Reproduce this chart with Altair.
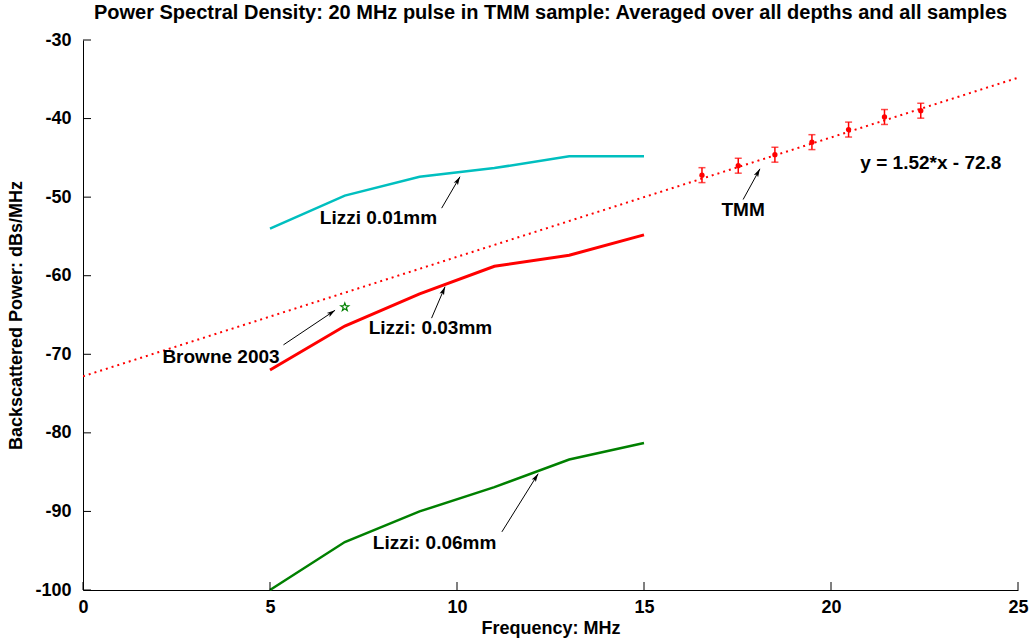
import math
import altair as alt
import pandas as pd

# ---------------- data ----------------
freq_lizzi = [5, 7, 9, 11, 13, 15]
lizzi_001 = [-54.0, -49.8, -47.4, -46.3, -44.8, -44.8]
lizzi_003 = [-72.0, -66.4, -62.3, -58.8, -57.4, -54.8]
lizzi_006 = [-100.0, -93.9, -90.0, -86.9, -83.4, -81.3]

tmm_freq = [16.55, 17.52, 18.5, 19.49, 20.47, 21.43, 22.4]
tmm_power = [-47.2, -46.0, -44.6, -43.0, -41.4, -39.8, -39.0]
tmm_err = [0.95, 0.95, 0.95, 0.95, 0.95, 0.95, 0.95]

fit_x = [0, 25]
fit_y = [-72.8, -34.8]

browne_x = [7.0]
browne_y = [-64.0]

ann_text = ["Lizzi 0.01mm", "Lizzi: 0.03mm", "Browne 2003", "TMM", "Lizzi: 0.06mm", "y = 1.52*x - 72.8"]
ann_x = [7.9, 9.29, 3.69, 17.65, 9.4, 22.67]
ann_y = [-52.7, -66.7, -70.3, -51.6, -94.0, -45.7]

arrow_x1 = [9.59, 9.32, 5.36, 17.65, 11.2]
arrow_y1 = [-51.4, -65.4, -68.8, -50.3, -92.6]
arrow_x2 = [10.08, 9.68, 6.74, 18.10, 12.17]
arrow_y2 = [-47.4, -61.4, -64.4, -46.4, -85.2]

x_ticks = [0, 5, 10, 15, 20, 25]
y_ticks = [-100, -90, -80, -70, -60, -50, -40, -30]

TITLE = "Power Spectral Density: 20 MHz pulse in TMM sample: Averaged over all depths and all samples"

# ---------------- layout ----------------
W, H = 935, 550
XD = [0, 25]
YD = [-100, -30]
FONT = "Liberation Sans"

xs = alt.Scale(domain=XD, nice=False, zero=False)
ys = alt.Scale(domain=YD, nice=False, zero=False)

def X(field, axis=True):
    if axis:
        return alt.X(field, type="quantitative", scale=xs, title="Frequency: MHz",
                     axis=alt.Axis(values=x_ticks, labelExpr="datum.value + ''"))
    return alt.X(field, type="quantitative", scale=xs)

def Y(field, axis=True):
    if axis:
        return alt.Y(field, type="quantitative", scale=ys, title="Backscattered Power: dBs/MHz",
                     axis=alt.Axis(values=y_ticks, labelExpr="datum.value + ''"))
    return alt.Y(field, type="quantitative", scale=ys)

# fit line
fit_df = pd.DataFrame({"x": fit_x, "y": fit_y})
fit = alt.Chart(fit_df).mark_line(color="#ff0000", strokeWidth=2, strokeDash=[2, 4], clip=True).encode(
    x=X("x"), y=Y("y"))

# Lizzi lines
def lizzi(vals, color, width):
    df = pd.DataFrame({"x": freq_lizzi, "y": vals})
    return alt.Chart(df).mark_line(color=color, strokeWidth=width).encode(x=X("x", axis=False), y=Y("y", axis=False))

l1 = lizzi(lizzi_001, "#00bfbf", 2.5)
l3 = lizzi(lizzi_003, "#ff0000", 3)
l6 = lizzi(lizzi_006, "#008000", 2.5)

# TMM points with error bars
tmm_df = pd.DataFrame({"x": tmm_freq, "y": tmm_power,
                       "lo": [p - e for p, e in zip(tmm_power, tmm_err)],
                       "hi": [p + e for p, e in zip(tmm_power, tmm_err)]})
tmm_bar = alt.Chart(tmm_df).mark_rule(color="#ff0000", strokeWidth=1.5).encode(
    x=X("x", axis=False), y=Y("lo", axis=False), y2="hi")
tmm_cap_lo = alt.Chart(tmm_df).mark_tick(color="#ff0000", orient="horizontal", size=7, thickness=1.5).encode(
    x=X("x", axis=False), y=Y("lo", axis=False))
tmm_cap_hi = alt.Chart(tmm_df).mark_tick(color="#ff0000", orient="horizontal", size=7, thickness=1.5).encode(
    x=X("x", axis=False), y=Y("hi", axis=False))
tmm_pts = alt.Chart(tmm_df).mark_circle(color="#ff0000", size=28, opacity=1).encode(
    x=X("x", axis=False), y=Y("y", axis=False))

# Browne star
STAR = "M0,-1L0.24,-0.33L0.95,-0.31L0.38,0.12L0.59,0.81L0,0.4L-0.59,0.81L-0.38,0.12L-0.95,-0.31L-0.24,-0.33Z"
br_df = pd.DataFrame({"x": browne_x, "y": browne_y})
star = alt.Chart(br_df).mark_point(shape=STAR, filled=False, color="#008000", strokeWidth=1.2, size=70, opacity=1).encode(
    x=X("x", axis=False), y=Y("y", axis=False))

# arrows
def px(x):
    return (x - XD[0]) / (XD[1] - XD[0]) * W

def py(y):
    return (YD[1] - y) / (YD[1] - YD[0]) * H

angles = []
for a, b, c, d in zip(arrow_x1, arrow_y1, arrow_x2, arrow_y2):
    dx = px(c) - px(a)
    dy = py(d) - py(b)
    ang = math.degrees(math.atan2(dx, -dy)) % 360
    angles.append(ang)

arr_df = pd.DataFrame({"x1": arrow_x1, "y1": arrow_y1, "x2": arrow_x2, "y2": arrow_y2, "ang": angles})
arrow_lines = alt.Chart(arr_df).mark_rule(color="black", strokeWidth=1).encode(
    x=X("x1", axis=False), y=Y("y1", axis=False), x2="x2", y2="y2")
HEAD = "M0,0L-0.32,1.1L0,0.85L0.32,1.1Z"
arrow_heads = alt.Chart(arr_df).mark_point(shape=HEAD, filled=True, color="black", size=230, opacity=1).encode(
    x=X("x2", axis=False), y=Y("y2", axis=False), angle=alt.Angle("ang:Q", scale=None))

# annotations
txt_df = pd.DataFrame({"x": ann_x, "y": ann_y, "t": ann_text})
texts = alt.Chart(txt_df).mark_text(font=FONT, fontSize=19, fontWeight="bold", color="black",
                                    align="center", baseline="middle").encode(
    x=X("x", axis=False), y=Y("y", axis=False), text="t:N")

# inward ticks
yt_df = pd.DataFrame({"v": y_ticks})
xt_df = pd.DataFrame({"v": x_ticks})
ytick = alt.Chart(yt_df).mark_rule(color="black", strokeWidth=1).encode(
    y=Y("v", axis=False), x=alt.value(0), x2=alt.value(8))
xtick = alt.Chart(xt_df).mark_rule(color="black", strokeWidth=1).encode(
    x=X("v", axis=False), y=alt.value(H), y2=alt.value(H - 8))

chart = alt.layer(
    fit, l1, l3, l6, tmm_bar, tmm_cap_lo, tmm_cap_hi, tmm_pts, star,
    arrow_lines, arrow_heads, texts, ytick, xtick
).properties(
    width=W, height=H,
    padding={"left": 83, "top": 40, "right": 14, "bottom": 51},
    autosize=alt.AutoSizeParams(type="none"),
    title=alt.TitleParams(TITLE, anchor="middle", font=FONT, fontSize=20, fontWeight="bold",
                          color="black", offset=8),
).configure_view(stroke=None).configure_axis(
    grid=False, ticks=False, domainColor="black", domainWidth=1,
    labelFont=FONT, labelFontSize=18, labelFontWeight="bold", labelColor="black",
    titleFont=FONT, titleFontSize=18, titleFontWeight="bold", titleColor="black",
).configure_axisX(labelPadding=8, titlePadding=3, labelFlush=False).configure_axisY(
    labelPadding=12, titlePadding=9)

chart.save("out.html", embed_options={"renderer": "svg", "actions": False})
